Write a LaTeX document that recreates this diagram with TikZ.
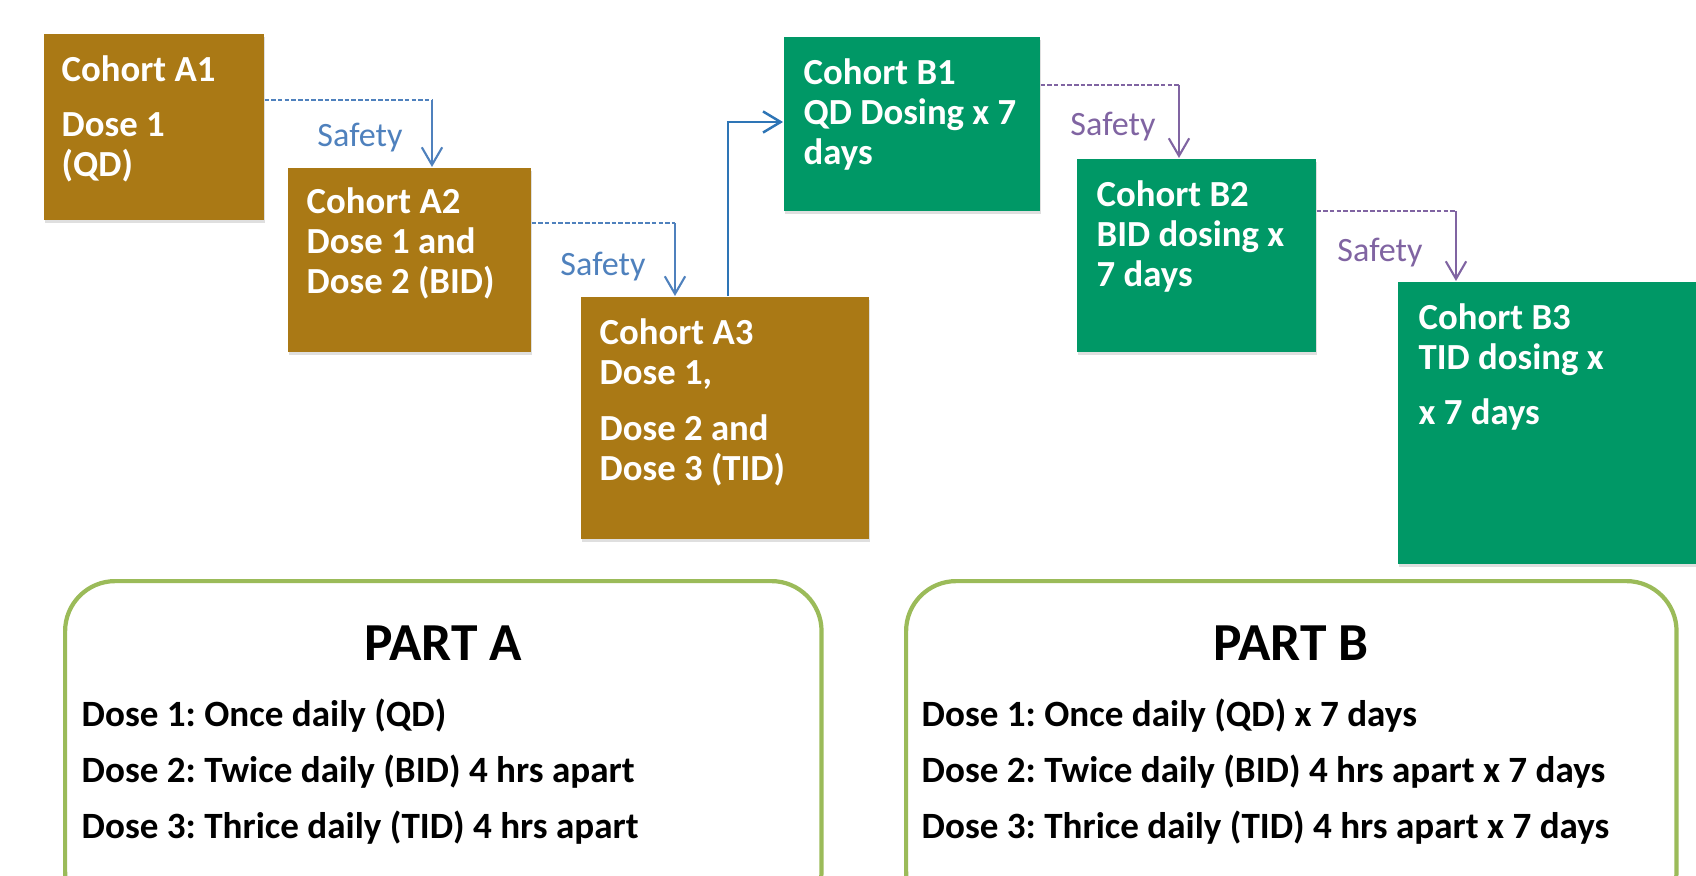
\documentclass[tikz,border=0pt]{standalone}
\usepackage{fontspec}
\setmainfont{Carlito}
\usetikzlibrary{arrows.meta,shadows}
\definecolor{cohortA}{RGB}{170,121,21}
\definecolor{cohortB}{RGB}{0,152,102}
\definecolor{safeblue}{RGB}{79,129,189}
\definecolor{goblue}{RGB}{46,117,182}
\definecolor{safepurple}{RGB}{128,100,162}
\definecolor{partline}{RGB}{155,187,89}
\frenchspacing
\tikzset{
	cohort/.style={anchor=north west, inner sep=0pt, drop shadow={shadow xshift=0.4pt, shadow yshift=-0.8pt, opacity=0.25}},
	cohortA/.style={cohort, fill=cohortA},
	cohortB/.style={cohort, fill=cohortB},
	cohorttext/.style={anchor=base west, inner sep=0pt, align=left, text=white, font=\fontsize{10.45pt}{11.4pt}\selectfont\bfseries},
	safetext/.style={inner sep=0pt, font=\fontsize{9.7pt}{11pt}\selectfont},
	dashA/.style={safeblue, line width=0.5pt, dash pattern=on 1.3pt off 0.6pt},
	dashB/.style={safepurple, line width=0.5pt, dash pattern=on 1.3pt off 0.6pt},
	downA/.style={safeblue, line width=0.6pt, -{Straight Barb[length=5pt,width=5.8pt]}},
	downB/.style={safepurple, line width=0.6pt, -{Straight Barb[length=5pt,width=5.8pt]}},
	partbox/.style={anchor=north west, draw=partline, line width=1.2pt, rounded corners=0.5cm, inner sep=0pt},
	parttitle/.style={anchor=base, inner sep=0pt, font=\fontsize{15.2pt}{17pt}\selectfont\bfseries},
	partline/.style={anchor=base west, inner sep=0pt, font=\fontsize{10.55pt}{12pt}\selectfont\bfseries}
}
\begin{document}
\begin{tikzpicture}[x=0.01cm, y=-0.01cm]
	\useasboundingbox (0,0) rectangle (1696,876);
	\clip (0,0) rectangle (1696,876);
	\node[cohortA, minimum width=2.20cm, minimum height=1.86cm] (A1) at (43,33) {};
	\node[cohortA, minimum width=2.43cm, minimum height=1.84cm] (A2) at (287,167) {};
	\node[cohortA, minimum width=2.88cm, minimum height=2.42cm] (A3) at (580,296) {};
	\node[cohortB, minimum width=2.56cm, minimum height=1.74cm] (B1) at (783,36) {};
	\node[cohortB, minimum width=2.39cm, minimum height=1.93cm] (B2) at (1076,158) {};
	\node[cohortB, minimum width=3.20cm, minimum height=2.82cm] (B3) at (1397,281) {};
	\node[cohorttext] (A1t) at (61,177) {Cohort A1\\[0.15cm]Dose 1\\(QD)};
	\node[cohorttext] (A2t) at (306,294) {Cohort A2\\Dose 1 and\\Dose 2 (BID)};
	\node[cohorttext] (A3t) at (599,481) {Cohort A3\\Dose 1,\\[0.16cm]Dose 2 and\\Dose 3 (TID)};
	\node[cohorttext] (B1t) at (803,165) {Cohort B1\\QD Dosing x 7\\days};
	\node[cohorttext] (B2t) at (1096,287) {Cohort B2\\BID dosing x\\7 days};
	\node[cohorttext] (B3t) at (1418,425) {Cohort B3\\TID dosing x\\[0.15cm]x 7 days};
	\coordinate (c1) at (432,100);
	\coordinate (c2) at (675,223);
	\coordinate (c3) at (1179,85);
	\coordinate (c4) at (1456,211);
	\draw[dashA] (A1.east |- c1) -- (c1);
	\draw[downA] (c1) -- (A2.north -| c1);
	\draw[dashA] (A2.east |- c2) -- (c2);
	\draw[downA] (c2) -- (A3.north -| c2);
	\draw[dashB] (B1.east |- c3) -- (c3);
	\draw[downB] (c3) -- (B2.north -| c3);
	\draw[dashB] (B2.east |- c4) -- (c4);
	\draw[downB] (c4) -- (B3.north -| c4);
	\draw[goblue, line width=0.7pt, -{Straight Barb[length=5pt,width=6pt]}] (A3.north -| 728,0) |- (B1.west |- 0,122);
	\node[safetext, text=safeblue] (s1) at (360,138) {Safety};
	\node[safetext, text=safeblue] (s2) at (603,267) {Safety};
	\node[safetext, text=safepurple] (s3) at (1113,127) {Safety};
	\node[safetext, text=safepurple] (s4) at (1380,253) {Safety};
	\node[partbox, minimum width=7.56cm, minimum height=3.4cm] (partA) at (63,579) {};
	\node[partbox, minimum width=7.70cm, minimum height=3.4cm] (partB) at (904,579) {};
	\node[parttitle] (partAt) at (partA.north |- 0,660) {PART A};
	\node[parttitle] (partBt) at (partB.north |- 0,660) {PART B};
	\node[partline] (a1) at (81,726) {Dose 1: Once daily (QD)};
	\node[partline] (a2) at (81,782) {Dose 2: Twice daily (BID) 4 hrs apart};
	\node[partline] (a3) at (81,838) {Dose 3: Thrice daily (TID) 4 hrs apart};
	\node[partline] (b1) at (921,726) {Dose 1: Once daily (QD) x 7 days};
	\node[partline] (b2) at (921,782) {Dose 2: Twice daily (BID) 4 hrs apart x 7 days};
	\node[partline] (b3) at (921,838) {Dose 3: Thrice daily (TID) 4 hrs apart x 7 days};
\end{tikzpicture}
\end{document}
